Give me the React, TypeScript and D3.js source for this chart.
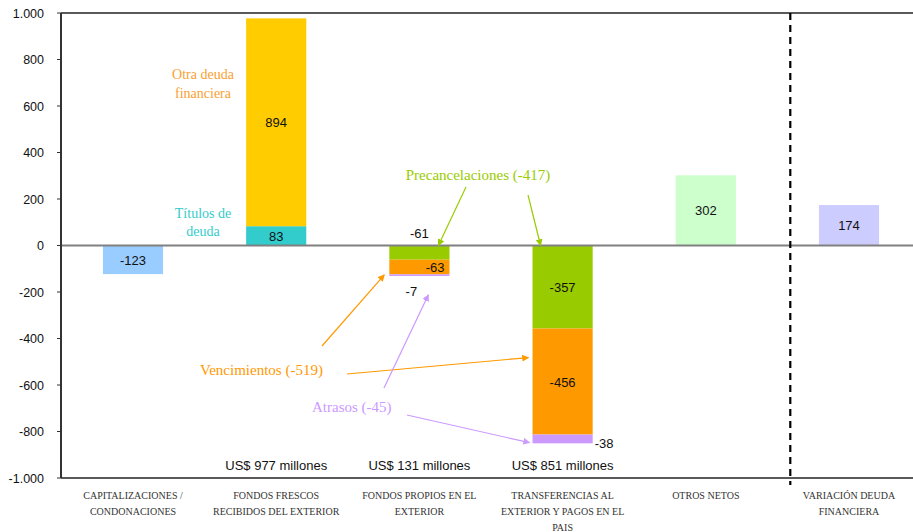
import React from "react";
import * as d3 from "d3";

// Categories (one per column)
const categoryLines = [
  ["CAPITALIZACIONES /", "CONDONACIONES"],
  ["FONDOS FRESCOS", "RECIBIDOS DEL EXTERIOR"],
  ["FONDOS PROPIOS EN EL", "EXTERIOR"],
  ["TRANSFERENCIAS AL", "EXTERIOR Y PAGOS EN EL", "PAIS"],
  ["OTROS NETOS"],
  ["VARIACIÓN DEUDA", "FINANCIERA"],
];
const categories = categoryLines.map((l) => l.join(" "));

// Series values (US$ millones)
const singleValues = [-123, 0, 0, 0, 302, 174];
const singleColors = ["#99ccff", "", "", "", "#ccffcc", "#ccccff"];
const titulosDeuda = [0, 83, 0, 0, 0, 0];
const otraDeuda = [0, 894, 0, 0, 0, 0];
const precancelaciones = [0, 0, -61, -357, 0, 0];
const vencimientos = [0, 0, -63, -456, 0, 0];
const atrasos = [0, 0, -7, -38, 0, 0];

const yTicks = [-1000, -800, -600, -400, -200, 0, 200, 400, 600, 800, 1000];

const W = 913;
const H = 532;
const margin = { top: 13, left: 61, bottom: 54 };

const fmt = (v: number) => {
  const s = Math.abs(v).toString();
  const withDots = s.length > 3 ? s.slice(0, s.length - 3) + "." + s.slice(-3) : s;
  return (v < 0 ? "-" : "") + withDots;
};

const App = () => {
  const x = d3
    .scaleBand()
    .domain(categories)
    .range([61.4, 920.6])
    .padding(0);
  const y = d3
    .scaleLinear()
    .domain([-1000, 1000])
    .range([H - margin.bottom, margin.top]);

  const barW = x.bandwidth() * 0.42;
  const cx = (i: number) => (x(categories[i]) as number) + x.bandwidth() / 2;

  // stacked segments, label placement per segment
  type Seg = { i: number; v0: number; v1: number; color: string; value: number; label: string };
  const segs: Seg[] = [];
  const stacks: { arr: number[]; color: string; label: string }[] = [
    { arr: titulosDeuda, color: "#33cccc", label: "center" },
    { arr: otraDeuda, color: "#ffcc00", label: "center" },
    { arr: precancelaciones, color: "#99cc00", label: "center" },
    { arr: vencimientos, color: "#ff9900", label: "center" },
    { arr: atrasos, color: "#cc99ff", label: "outside" },
  ];
  categories.forEach((_, i) => {
    if (singleValues[i] !== 0) {
      segs.push({ i, v0: 0, v1: singleValues[i], color: singleColors[i], value: singleValues[i], label: "center" });
    }
    let pos = 0;
    let neg = 0;
    stacks.forEach((s) => {
      const v = s.arr[i];
      if (v === 0) return;
      if (v > 0) {
        segs.push({ i, v0: pos, v1: pos + v, color: s.color, value: v, label: s.label });
        pos += v;
      } else {
        segs.push({ i, v0: neg, v1: neg + v, color: s.color, value: v, label: s.label });
        neg += v;
      }
    });
  });

  const totals = categories.map((_, i) =>
    titulosDeuda[i] + otraDeuda[i] - precancelaciones[i] - vencimientos[i] - atrasos[i]
  );

  const labelPos = (s: Seg) => {
    const c = cx(s.i);
    const mid = (y(s.v0) + y(s.v1)) / 2;
    // small segments in column 3 are labelled beside/around the bar
    if (s.i === 2) {
      if (s.color === "#99cc00") return { x: c, y: y(0) - 8, anchor: "middle" };
      if (s.color === "#ff9900") return { x: c + barW / 2 - 5, y: mid + 5, anchor: "end" };
      return { x: c - 8, y: y(s.v1) + 20, anchor: "middle" };
    }
    if (s.label === "outside") return { x: c + barW / 2 + 2, y: mid + 9, anchor: "start" };
    return { x: c, y: mid + 5, anchor: "middle" };
  };

  const serif = "'Liberation Serif', 'DejaVu Serif', serif";
  const sans = "'Liberation Sans', Arial, sans-serif";

  const arrowColors = { green: "#99cc00", orange: "#ff9900", purple: "#cc99ff" };
  // annotation arrows: tail in pixels, head anchored to a column / value
  const arrows = [
    { c: "green", x1: 466, y1: 187, hx: cx(2) + 19, hv: 0 },
    { c: "green", x1: 528, y1: 195, hx: cx(3) - 22, hv: 0 },
    { c: "orange", x1: 322, y1: 346, hx: cx(2) - barW / 2 - 5, hv: -126 },
    { c: "orange", x1: 347, y1: 374, hx: cx(3) - barW / 2 - 4, hv: -482 },
    { c: "purple", x1: 384, y1: 388, hx: cx(2) + 9, hv: -212 },
    { c: "purple", x1: 407, y1: 415, hx: cx(3) - barW / 2 - 3, hv: -848 },
  ];

  const dashX = (x(categories[5]) as number) + x.bandwidth() * 0.09;

  return (
    <svg width={W} height={H} style={{ position: "absolute", left: 0, top: 0, background: "#fff" }}>
      <defs>
        {Object.entries(arrowColors).map(([k, col]) => (
          <marker
            key={k}
            id={`arr-${k}`}
            viewBox="0 0 10 10"
            refX="9"
            refY="5"
            markerWidth="7"
            markerHeight="7"
            markerUnits="userSpaceOnUse"
            orient="auto"
          >
            <path d="M0,0 L10,5 L0,10 z" fill={col} />
          </marker>
        ))}
      </defs>

      {/* bars */}
      {segs.map((s, k) => (
        <rect
          key={k}
          x={cx(s.i) - barW / 2}
          width={barW}
          y={Math.min(y(s.v0), y(s.v1))}
          height={Math.abs(y(s.v0) - y(s.v1))}
          fill={s.color}
        />
      ))}

      {/* zero line */}
      <line x1={margin.left} x2={W} y1={y(0)} y2={y(0)} stroke="#808080" strokeWidth={2} />

      {/* frame */}
      <line x1={margin.left} x2={W} y1={y(1000)} y2={y(1000)} stroke="#222" strokeWidth={1.5} />
      <line x1={margin.left} x2={W} y1={y(-1000)} y2={y(-1000)} stroke="#222" strokeWidth={1.5} />
      <line x1={margin.left} x2={margin.left} y1={y(1000)} y2={y(-1000)} stroke="#333" strokeWidth={2} />

      {/* y ticks */}
      {yTicks.map((t) => (
        <g key={t} transform={`translate(0,${y(t)})`}>
          <line x1={margin.left - 4} x2={margin.left} stroke="#333" />
          <text x={44} y={4.5} textAnchor="end" fontFamily={sans} fontSize={12.5} fill="#111">
            {fmt(t)}
          </text>
        </g>
      ))}

      {/* dashed separator */}
      <line x1={dashX} x2={dashX} y1={y(1000)} y2={485} stroke="#000" strokeWidth={2.2} strokeDasharray="7,5" />

      {/* value labels */}
      {segs.map((s, k) => {
        const p = labelPos(s);
        return (
          <text key={k} x={p.x} y={p.y} textAnchor={p.anchor} fontFamily={sans} fontSize={13} fill="#111">
            {fmt(s.value)}
          </text>
        );
      })}

      {/* totals */}
      {totals.map((t, i) =>
        t > 0 ? (
          <text key={i} x={cx(i)} y={470} textAnchor="middle" fontFamily={sans} fontSize={13} fill="#111">
            {`US$ ${t} millones`}
          </text>
        ) : null
      )}

      {/* category labels */}
      {categoryLines.map((lines, i) => (
        <text key={i} textAnchor="middle" fontFamily={serif} fontSize={10} fill="#333">
          {lines.map((l, j) => (
            <tspan key={j} x={cx(i)} y={499 + j * 16}>
              {l}
            </tspan>
          ))}
        </text>
      ))}

      {/* annotations */}
      <text textAnchor="middle" fontFamily={serif} fontSize={14} fill="#f9a030">
        <tspan x={203} y={79}>Otra deuda</tspan>
        <tspan x={203} y={98}>financiera</tspan>
      </text>
      <text textAnchor="middle" fontFamily={serif} fontSize={14} fill="#33cccc">
        <tspan x={203} y={218}>Títulos de</tspan>
        <tspan x={203} y={236}>deuda</tspan>
      </text>
      <text x={478} y={180} textAnchor="middle" fontFamily={serif} fontSize={15} fill="#99cc00">
        Precancelaciones (-417)
      </text>
      <text x={200} y={375} fontFamily={serif} fontSize={15} fill="#ff9900">
        Vencimientos (-519)
      </text>
      <text x={312} y={412} fontFamily={serif} fontSize={15} fill="#cc99ff">
        Atrasos (-45)
      </text>

      {arrows.map((a, k) => (
        <line
          key={k}
          x1={a.x1}
          y1={a.y1}
          x2={a.hx}
          y2={y(a.hv)}
          stroke={arrowColors[a.c as keyof typeof arrowColors]}
          strokeWidth={1.2}
          markerEnd={`url(#arr-${a.c})`}
        />
      ))}
    </svg>
  );
};

export default App;
